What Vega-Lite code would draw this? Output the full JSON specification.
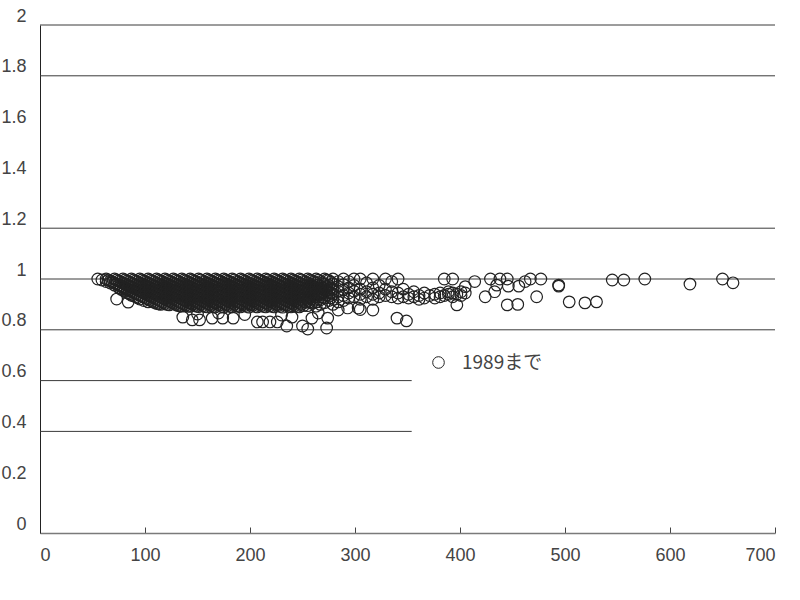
{
"$schema":"https://vega.github.io/schema/vega-lite/v6.json",
"autosize":"none",
"width":735,"height":508,
"padding":{"left":40,"top":25,"right":25,"bottom":67},
"background":"white",
"config":{"view":{"stroke":null},"font":"Liberation Sans"},
"datasets":{
"grid":[{"g":2,"a":0,"b":700},{"g":1.8,"a":0,"b":700},{"g":1.2,"a":0,"b":700},{"g":1,"a":0,"b":700},{"g":0.8,"a":0,"b":700},{"g":0.6,"a":0,"b":354},{"g":0.4,"a":0,"b":354}],
"pts":[
{"x":55,"y":1},{"x":59,"y":0.996},{"x":63,"y":1},{"x":63,"y":0.99},{"x":67,"y":0.992},{"x":67,"y":0.984},
{"x":71,"y":1},{"x":71,"y":0.984},{"x":71,"y":0.976},{"x":75,"y":0.992},{"x":75,"y":0.976},{"x":75,"y":0.966},
{"x":79,"y":1},{"x":79,"y":0.984},{"x":79,"y":0.968},{"x":79,"y":0.956},
{"x":83,"y":0.992},{"x":83,"y":0.976},{"x":83,"y":0.96},{"x":83,"y":0.946},
{"x":87,"y":1},{"x":87,"y":0.984},{"x":87,"y":0.968},{"x":87,"y":0.952},{"x":87,"y":0.936},
{"x":91,"y":0.992},{"x":91,"y":0.976},{"x":91,"y":0.96},{"x":91,"y":0.944},{"x":91,"y":0.93},
{"x":95,"y":1},{"x":95,"y":0.984},{"x":95,"y":0.968},{"x":95,"y":0.952},{"x":95,"y":0.936},{"x":95,"y":0.921},
{"x":99,"y":0.992},{"x":99,"y":0.976},{"x":99,"y":0.96},{"x":99,"y":0.944},{"x":99,"y":0.928},{"x":99,"y":0.915},
{"x":103,"y":1},{"x":103,"y":0.984},{"x":103,"y":0.968},{"x":103,"y":0.952},{"x":103,"y":0.936},{"x":103,"y":0.92},{"x":103,"y":0.91},
{"x":107,"y":0.992},{"x":107,"y":0.976},{"x":107,"y":0.96},{"x":107,"y":0.944},{"x":107,"y":0.928},{"x":107,"y":0.912},
{"x":111,"y":1},{"x":111,"y":0.984},{"x":111,"y":0.968},{"x":111,"y":0.952},{"x":111,"y":0.936},{"x":111,"y":0.92},{"x":111,"y":0.904},
{"x":115,"y":0.992},{"x":115,"y":0.976},{"x":115,"y":0.96},{"x":115,"y":0.944},{"x":115,"y":0.928},{"x":115,"y":0.912},{"x":115,"y":0.9},
{"x":119,"y":1},{"x":119,"y":0.984},{"x":119,"y":0.968},{"x":119,"y":0.952},{"x":119,"y":0.936},{"x":119,"y":0.92},{"x":119,"y":0.904},
{"x":123,"y":0.992},{"x":123,"y":0.976},{"x":123,"y":0.96},{"x":123,"y":0.944},{"x":123,"y":0.928},{"x":123,"y":0.912},{"x":123,"y":0.898},
{"x":127,"y":1},{"x":127,"y":0.984},{"x":127,"y":0.968},{"x":127,"y":0.952},{"x":127,"y":0.936},{"x":127,"y":0.92},{"x":127,"y":0.904},
{"x":131,"y":0.992},{"x":131,"y":0.976},{"x":131,"y":0.96},{"x":131,"y":0.944},{"x":131,"y":0.928},{"x":131,"y":0.912},{"x":131,"y":0.896},
{"x":135,"y":1},{"x":135,"y":0.984},{"x":135,"y":0.968},{"x":135,"y":0.952},{"x":135,"y":0.936},{"x":135,"y":0.92},{"x":135,"y":0.904},{"x":135,"y":0.893},
{"x":139,"y":0.993},{"x":139,"y":0.977},{"x":139,"y":0.961},{"x":139,"y":0.945},{"x":139,"y":0.929},{"x":139,"y":0.913},{"x":139,"y":0.897},
{"x":143,"y":1},{"x":143,"y":0.985},{"x":143,"y":0.969},{"x":143,"y":0.953},{"x":143,"y":0.937},{"x":143,"y":0.921},{"x":143,"y":0.905},{"x":143,"y":0.892},
{"x":147,"y":0.992},{"x":147,"y":0.976},{"x":147,"y":0.96},{"x":147,"y":0.944},{"x":147,"y":0.928},{"x":147,"y":0.912},{"x":147,"y":0.896},
{"x":151,"y":1},{"x":151,"y":0.984},{"x":151,"y":0.968},{"x":151,"y":0.952},{"x":151,"y":0.936},{"x":151,"y":0.92},{"x":151,"y":0.904},{"x":151,"y":0.891},
{"x":155,"y":0.991},{"x":155,"y":0.975},{"x":155,"y":0.959},{"x":155,"y":0.943},{"x":155,"y":0.927},{"x":155,"y":0.911},{"x":155,"y":0.895},
{"x":159,"y":1},{"x":159,"y":0.984},{"x":159,"y":0.968},{"x":159,"y":0.952},{"x":159,"y":0.936},{"x":159,"y":0.92},{"x":159,"y":0.904},{"x":159,"y":0.89},
{"x":163,"y":0.992},{"x":163,"y":0.976},{"x":163,"y":0.96},{"x":163,"y":0.944},{"x":163,"y":0.928},{"x":163,"y":0.912},{"x":163,"y":0.896},
{"x":167,"y":1},{"x":167,"y":0.985},{"x":167,"y":0.969},{"x":167,"y":0.953},{"x":167,"y":0.937},{"x":167,"y":0.921},{"x":167,"y":0.905},{"x":167,"y":0.89},
{"x":171,"y":0.993},{"x":171,"y":0.977},{"x":171,"y":0.961},{"x":171,"y":0.945},{"x":171,"y":0.929},{"x":171,"y":0.913},{"x":171,"y":0.897},
{"x":175,"y":1},{"x":175,"y":0.984},{"x":175,"y":0.968},{"x":175,"y":0.952},{"x":175,"y":0.936},{"x":175,"y":0.92},{"x":175,"y":0.904},{"x":175,"y":0.889},
{"x":179,"y":0.992},{"x":179,"y":0.976},{"x":179,"y":0.96},{"x":179,"y":0.944},{"x":179,"y":0.928},{"x":179,"y":0.912},{"x":179,"y":0.896},
{"x":183,"y":1},{"x":183,"y":0.984},{"x":183,"y":0.968},{"x":183,"y":0.952},{"x":183,"y":0.936},{"x":183,"y":0.92},{"x":183,"y":0.904},{"x":183,"y":0.89},
{"x":187,"y":0.991},{"x":187,"y":0.975},{"x":187,"y":0.959},{"x":187,"y":0.943},{"x":187,"y":0.927},{"x":187,"y":0.911},{"x":187,"y":0.895},
{"x":191,"y":1},{"x":191,"y":0.985},{"x":191,"y":0.969},{"x":191,"y":0.953},{"x":191,"y":0.937},{"x":191,"y":0.921},{"x":191,"y":0.905},{"x":191,"y":0.89},
{"x":195,"y":0.992},{"x":195,"y":0.976},{"x":195,"y":0.96},{"x":195,"y":0.944},{"x":195,"y":0.928},{"x":195,"y":0.912},{"x":195,"y":0.896},
{"x":199,"y":1},{"x":199,"y":0.984},{"x":199,"y":0.968},{"x":199,"y":0.952},{"x":199,"y":0.936},{"x":199,"y":0.92},{"x":199,"y":0.904},{"x":199,"y":0.889},
{"x":203,"y":0.993},{"x":203,"y":0.977},{"x":203,"y":0.961},{"x":203,"y":0.945},{"x":203,"y":0.929},{"x":203,"y":0.913},{"x":203,"y":0.897},
{"x":207,"y":1},{"x":207,"y":0.984},{"x":207,"y":0.968},{"x":207,"y":0.952},{"x":207,"y":0.936},{"x":207,"y":0.92},{"x":207,"y":0.904},{"x":207,"y":0.89},
{"x":211,"y":0.992},{"x":211,"y":0.976},{"x":211,"y":0.96},{"x":211,"y":0.944},{"x":211,"y":0.928},{"x":211,"y":0.912},{"x":211,"y":0.896},
{"x":215,"y":1},{"x":215,"y":0.985},{"x":215,"y":0.969},{"x":215,"y":0.953},{"x":215,"y":0.937},{"x":215,"y":0.921},{"x":215,"y":0.905},{"x":215,"y":0.89},
{"x":219,"y":0.991},{"x":219,"y":0.975},{"x":219,"y":0.959},{"x":219,"y":0.943},{"x":219,"y":0.927},{"x":219,"y":0.911},{"x":219,"y":0.895},
{"x":223,"y":1},{"x":223,"y":0.984},{"x":223,"y":0.968},{"x":223,"y":0.952},{"x":223,"y":0.936},{"x":223,"y":0.92},{"x":223,"y":0.904},{"x":223,"y":0.89},
{"x":227,"y":0.992},{"x":227,"y":0.976},{"x":227,"y":0.96},{"x":227,"y":0.944},{"x":227,"y":0.928},{"x":227,"y":0.912},{"x":227,"y":0.896},
{"x":231,"y":1},{"x":231,"y":0.984},{"x":231,"y":0.968},{"x":231,"y":0.952},{"x":231,"y":0.936},{"x":231,"y":0.92},{"x":231,"y":0.904},{"x":231,"y":0.889},
{"x":235,"y":0.993},{"x":235,"y":0.977},{"x":235,"y":0.961},{"x":235,"y":0.945},{"x":235,"y":0.929},{"x":235,"y":0.913},{"x":235,"y":0.897},
{"x":239,"y":1},{"x":239,"y":0.985},{"x":239,"y":0.969},{"x":239,"y":0.953},{"x":239,"y":0.937},{"x":239,"y":0.921},{"x":239,"y":0.905},{"x":239,"y":0.89},
{"x":243,"y":0.992},{"x":243,"y":0.976},{"x":243,"y":0.96},{"x":243,"y":0.944},{"x":243,"y":0.928},{"x":243,"y":0.912},{"x":243,"y":0.896},
{"x":247,"y":1},{"x":247,"y":0.984},{"x":247,"y":0.968},{"x":247,"y":0.952},{"x":247,"y":0.936},{"x":247,"y":0.92},{"x":247,"y":0.904},{"x":247,"y":0.89},
{"x":251,"y":0.991},{"x":251,"y":0.975},{"x":251,"y":0.959},{"x":251,"y":0.943},{"x":251,"y":0.927},{"x":251,"y":0.911},{"x":251,"y":0.895},
{"x":65,"y":0.996},{"x":69,"y":0.988},{"x":73,"y":0.996},{"x":73,"y":0.98},{"x":77,"y":0.988},{"x":77,"y":0.972},{"x":77,"y":0.96},
{"x":81,"y":0.996},{"x":81,"y":0.98},{"x":81,"y":0.964},{"x":81,"y":0.952},{"x":85,"y":0.988},{"x":85,"y":0.972},{"x":85,"y":0.956},{"x":85,"y":0.942},
{"x":89,"y":0.996},{"x":89,"y":0.98},{"x":89,"y":0.964},{"x":89,"y":0.948},{"x":89,"y":0.934},
{"x":93,"y":0.988},{"x":93,"y":0.972},{"x":93,"y":0.956},{"x":93,"y":0.94},{"x":93,"y":0.926},
{"x":97,"y":0.996},{"x":97,"y":0.98},{"x":97,"y":0.964},{"x":97,"y":0.948},{"x":97,"y":0.932},
{"x":101,"y":0.988},{"x":101,"y":0.972},{"x":101,"y":0.956},{"x":101,"y":0.94},{"x":101,"y":0.924},
{"x":105,"y":0.996},{"x":105,"y":0.98},{"x":105,"y":0.964},{"x":105,"y":0.948},{"x":105,"y":0.932},{"x":105,"y":0.916},
{"x":109,"y":0.988},{"x":109,"y":0.972},{"x":109,"y":0.956},{"x":109,"y":0.94},{"x":109,"y":0.924},{"x":109,"y":0.908},
{"x":113,"y":0.996},{"x":113,"y":0.98},{"x":113,"y":0.964},{"x":113,"y":0.948},{"x":113,"y":0.932},{"x":113,"y":0.916},{"x":113,"y":0.902},
{"x":117,"y":0.988},{"x":117,"y":0.972},{"x":117,"y":0.956},{"x":117,"y":0.94},{"x":117,"y":0.924},{"x":117,"y":0.908},
{"x":121,"y":0.996},{"x":121,"y":0.98},{"x":121,"y":0.964},{"x":121,"y":0.948},{"x":121,"y":0.932},{"x":121,"y":0.916},{"x":121,"y":0.9},
{"x":125,"y":0.988},{"x":125,"y":0.972},{"x":125,"y":0.956},{"x":125,"y":0.94},{"x":125,"y":0.924},{"x":125,"y":0.908},
{"x":129,"y":0.996},{"x":129,"y":0.98},{"x":129,"y":0.964},{"x":129,"y":0.948},{"x":129,"y":0.932},{"x":129,"y":0.916},{"x":129,"y":0.9},
{"x":133,"y":0.988},{"x":133,"y":0.972},{"x":133,"y":0.956},{"x":133,"y":0.94},{"x":133,"y":0.924},{"x":133,"y":0.908},{"x":133,"y":0.894},
{"x":137,"y":0.996},{"x":137,"y":0.98},{"x":137,"y":0.964},{"x":137,"y":0.948},{"x":137,"y":0.932},{"x":137,"y":0.916},{"x":137,"y":0.9},
{"x":141,"y":0.988},{"x":141,"y":0.972},{"x":141,"y":0.956},{"x":141,"y":0.94},{"x":141,"y":0.924},{"x":141,"y":0.908},{"x":141,"y":0.893},
{"x":145,"y":0.996},{"x":145,"y":0.98},{"x":145,"y":0.964},{"x":145,"y":0.948},{"x":145,"y":0.932},{"x":145,"y":0.916},{"x":145,"y":0.9},
{"x":149,"y":0.988},{"x":149,"y":0.972},{"x":149,"y":0.956},{"x":149,"y":0.94},{"x":149,"y":0.924},{"x":149,"y":0.908},{"x":149,"y":0.893},
{"x":153,"y":0.996},{"x":153,"y":0.98},{"x":153,"y":0.964},{"x":153,"y":0.948},{"x":153,"y":0.932},{"x":153,"y":0.916},{"x":153,"y":0.9},
{"x":157,"y":0.988},{"x":157,"y":0.972},{"x":157,"y":0.956},{"x":157,"y":0.94},{"x":157,"y":0.924},{"x":157,"y":0.908},{"x":157,"y":0.892},
{"x":161,"y":0.996},{"x":161,"y":0.98},{"x":161,"y":0.964},{"x":161,"y":0.948},{"x":161,"y":0.932},{"x":161,"y":0.916},{"x":161,"y":0.9},
{"x":165,"y":0.988},{"x":165,"y":0.972},{"x":165,"y":0.956},{"x":165,"y":0.94},{"x":165,"y":0.924},{"x":165,"y":0.908},{"x":165,"y":0.892},
{"x":169,"y":0.996},{"x":169,"y":0.98},{"x":169,"y":0.964},{"x":169,"y":0.948},{"x":169,"y":0.932},{"x":169,"y":0.916},{"x":169,"y":0.9},
{"x":173,"y":0.988},{"x":173,"y":0.972},{"x":173,"y":0.956},{"x":173,"y":0.94},{"x":173,"y":0.924},{"x":173,"y":0.908},{"x":173,"y":0.892},
{"x":177,"y":0.996},{"x":177,"y":0.98},{"x":177,"y":0.964},{"x":177,"y":0.948},{"x":177,"y":0.932},{"x":177,"y":0.916},{"x":177,"y":0.9},
{"x":181,"y":0.988},{"x":181,"y":0.972},{"x":181,"y":0.956},{"x":181,"y":0.94},{"x":181,"y":0.924},{"x":181,"y":0.908},{"x":181,"y":0.892},
{"x":185,"y":0.996},{"x":185,"y":0.98},{"x":185,"y":0.964},{"x":185,"y":0.948},{"x":185,"y":0.932},{"x":185,"y":0.916},{"x":185,"y":0.9},
{"x":189,"y":0.988},{"x":189,"y":0.972},{"x":189,"y":0.956},{"x":189,"y":0.94},{"x":189,"y":0.924},{"x":189,"y":0.908},{"x":189,"y":0.892},
{"x":193,"y":0.996},{"x":193,"y":0.98},{"x":193,"y":0.964},{"x":193,"y":0.948},{"x":193,"y":0.932},{"x":193,"y":0.916},{"x":193,"y":0.9},
{"x":197,"y":0.988},{"x":197,"y":0.972},{"x":197,"y":0.956},{"x":197,"y":0.94},{"x":197,"y":0.924},{"x":197,"y":0.908},{"x":197,"y":0.892},
{"x":201,"y":0.996},{"x":201,"y":0.98},{"x":201,"y":0.964},{"x":201,"y":0.948},{"x":201,"y":0.932},{"x":201,"y":0.916},{"x":201,"y":0.9},
{"x":205,"y":0.988},{"x":205,"y":0.972},{"x":205,"y":0.956},{"x":205,"y":0.94},{"x":205,"y":0.924},{"x":205,"y":0.908},{"x":205,"y":0.892},
{"x":209,"y":0.996},{"x":209,"y":0.98},{"x":209,"y":0.964},{"x":209,"y":0.948},{"x":209,"y":0.932},{"x":209,"y":0.916},{"x":209,"y":0.9},
{"x":213,"y":0.988},{"x":213,"y":0.972},{"x":213,"y":0.956},{"x":213,"y":0.94},{"x":213,"y":0.924},{"x":213,"y":0.908},{"x":213,"y":0.892},
{"x":217,"y":0.996},{"x":217,"y":0.98},{"x":217,"y":0.964},{"x":217,"y":0.948},{"x":217,"y":0.932},{"x":217,"y":0.916},{"x":217,"y":0.9},
{"x":221,"y":0.988},{"x":221,"y":0.972},{"x":221,"y":0.956},{"x":221,"y":0.94},{"x":221,"y":0.924},{"x":221,"y":0.908},{"x":221,"y":0.892},
{"x":225,"y":0.996},{"x":225,"y":0.98},{"x":225,"y":0.964},{"x":225,"y":0.948},{"x":225,"y":0.932},{"x":225,"y":0.916},{"x":225,"y":0.9},
{"x":229,"y":0.988},{"x":229,"y":0.972},{"x":229,"y":0.956},{"x":229,"y":0.94},{"x":229,"y":0.924},{"x":229,"y":0.908},{"x":229,"y":0.892},
{"x":233,"y":0.996},{"x":233,"y":0.98},{"x":233,"y":0.964},{"x":233,"y":0.948},{"x":233,"y":0.932},{"x":233,"y":0.916},{"x":233,"y":0.9},
{"x":237,"y":0.988},{"x":237,"y":0.972},{"x":237,"y":0.956},{"x":237,"y":0.94},{"x":237,"y":0.924},{"x":237,"y":0.908},{"x":237,"y":0.892},
{"x":241,"y":0.996},{"x":241,"y":0.98},{"x":241,"y":0.964},{"x":241,"y":0.948},{"x":241,"y":0.932},{"x":241,"y":0.916},{"x":241,"y":0.9},
{"x":245,"y":0.988},{"x":245,"y":0.972},{"x":245,"y":0.956},{"x":245,"y":0.94},{"x":245,"y":0.924},{"x":245,"y":0.908},{"x":245,"y":0.892},
{"x":249,"y":0.996},{"x":249,"y":0.98},{"x":249,"y":0.964},{"x":249,"y":0.948},{"x":249,"y":0.932},{"x":249,"y":0.916},{"x":249,"y":0.9},
{"x":253,"y":0.988},{"x":253,"y":0.972},{"x":253,"y":0.956},{"x":253,"y":0.94},{"x":253,"y":0.924},{"x":253,"y":0.908},
{"x":257,"y":0.996},{"x":257,"y":0.978},{"x":257,"y":0.962},{"x":257,"y":0.946},{"x":257,"y":0.926},{"x":257,"y":0.91},
{"x":261,"y":0.988},{"x":261,"y":0.97},{"x":261,"y":0.952},{"x":261,"y":0.935},{"x":261,"y":0.916},
{"x":265,"y":0.995},{"x":265,"y":0.977},{"x":265,"y":0.96},{"x":265,"y":0.94},{"x":265,"y":0.922},
{"x":269,"y":0.985},{"x":269,"y":0.966},{"x":269,"y":0.948},{"x":269,"y":0.93},
{"x":273,"y":0.996},{"x":273,"y":0.97},{"x":273,"y":0.955},{"x":273,"y":0.938},
{"x":277,"y":0.988},{"x":277,"y":0.966},{"x":277,"y":0.945},{"x":277,"y":0.926},
{"x":255,"y":1},{"x":255,"y":0.985},{"x":255,"y":0.965},{"x":255,"y":0.95},{"x":255,"y":0.93},{"x":255,"y":0.915},{"x":255,"y":0.895},
{"x":259,"y":0.993},{"x":259,"y":0.975},{"x":259,"y":0.958},{"x":259,"y":0.94},{"x":259,"y":0.922},{"x":259,"y":0.905},
{"x":263,"y":1},{"x":263,"y":0.984},{"x":263,"y":0.968},{"x":263,"y":0.945},{"x":263,"y":0.93},{"x":263,"y":0.91},{"x":263,"y":0.893},
{"x":267,"y":0.99},{"x":267,"y":0.972},{"x":267,"y":0.955},{"x":267,"y":0.938},{"x":267,"y":0.918},{"x":267,"y":0.9},
{"x":271,"y":1},{"x":271,"y":0.98},{"x":271,"y":0.962},{"x":271,"y":0.946},{"x":271,"y":0.925},{"x":271,"y":0.907},
{"x":275,"y":0.994},{"x":275,"y":0.975},{"x":275,"y":0.95},{"x":275,"y":0.932},{"x":275,"y":0.915},
{"x":279,"y":1},{"x":279,"y":0.982},{"x":279,"y":0.96},{"x":279,"y":0.94},{"x":279,"y":0.92},{"x":279,"y":0.9},
{"x":284,"y":0.99},{"x":284,"y":0.97},{"x":284,"y":0.952},{"x":284,"y":0.93},{"x":284,"y":0.91},
{"x":289,"y":1},{"x":289,"y":0.978},{"x":289,"y":0.958},{"x":289,"y":0.935},{"x":289,"y":0.915},
{"x":294,"y":0.99},{"x":294,"y":0.965},{"x":294,"y":0.945},{"x":294,"y":0.925},
{"x":299,"y":1},{"x":299,"y":0.975},{"x":299,"y":0.952},{"x":299,"y":0.93},
{"x":305,"y":1},{"x":305,"y":0.96},{"x":305,"y":0.94},{"x":305,"y":0.92},{"x":305,"y":0.88},
{"x":311,"y":0.985},{"x":311,"y":0.95},{"x":311,"y":0.93},
{"x":317,"y":1},{"x":317,"y":0.965},{"x":317,"y":0.94},{"x":317,"y":0.92},{"x":317,"y":0.878},
{"x":323,"y":0.975},{"x":323,"y":0.945},{"x":323,"y":0.93},
{"x":329,"y":1},{"x":329,"y":0.96},{"x":329,"y":0.935},
{"x":335,"y":0.99},{"x":335,"y":0.95},{"x":335,"y":0.93},
{"x":341,"y":1},{"x":341,"y":0.945},{"x":341,"y":0.925},
{"x":346,"y":0.96},{"x":346,"y":0.93},{"x":351,"y":0.94},{"x":351,"y":0.925},
{"x":356,"y":0.95},{"x":356,"y":0.93},{"x":361,"y":0.935},{"x":361,"y":0.92},
{"x":366,"y":0.945},{"x":366,"y":0.925},{"x":371,"y":0.935},
{"x":376,"y":0.94},{"x":376,"y":0.925},{"x":381,"y":0.945},{"x":381,"y":0.93},
{"x":385,"y":1},{"x":385,"y":0.935},{"x":389,"y":0.95},{"x":389,"y":0.94},
{"x":393,"y":1},{"x":393,"y":0.945},{"x":393,"y":0.93},{"x":397,"y":0.94},{"x":397,"y":0.898},
{"x":401,"y":0.95},{"x":401,"y":0.935},{"x":405,"y":0.97},{"x":405,"y":0.945},
{"x":73,"y":0.921},{"x":84,"y":0.909},{"x":136,"y":0.85},{"x":145,"y":0.839},{"x":152,"y":0.839},
{"x":164,"y":0.846},{"x":174,"y":0.846},{"x":184,"y":0.846},{"x":207,"y":0.831},{"x":212,"y":0.831},
{"x":219,"y":0.831},{"x":226,"y":0.831},{"x":235,"y":0.815},{"x":250,"y":0.815},{"x":255,"y":0.803},
{"x":259,"y":0.846},{"x":265,"y":0.866},{"x":273,"y":0.807},{"x":274,"y":0.846},{"x":284,"y":0.878},
{"x":293,"y":0.886},{"x":303,"y":0.886},{"x":340,"y":0.846},{"x":349,"y":0.835},
{"x":150,"y":0.862},{"x":170,"y":0.866},{"x":195,"y":0.86},{"x":230,"y":0.858},{"x":240,"y":0.85},
{"x":414,"y":0.99},{"x":424,"y":0.93},{"x":429,"y":1},{"x":433,"y":0.95},{"x":435,"y":0.976},
{"x":438,"y":1},{"x":445,"y":1},{"x":446,"y":0.972},{"x":445,"y":0.898},{"x":455,"y":0.9},
{"x":456,"y":0.972},{"x":462,"y":0.99},{"x":467,"y":1},{"x":473,"y":0.93},{"x":477,"y":1},
{"x":494,"y":0.972},{"x":494,"y":0.976},{"x":504,"y":0.91},{"x":519,"y":0.906},{"x":530,"y":0.91},
{"x":545,"y":0.996},{"x":556,"y":0.996},{"x":576,"y":1},{"x":619,"y":0.98},{"x":650,"y":1},{"x":660,"y":0.985}
]},
"layer":[
{"data":{"name":"grid"},"mark":{"type":"rule","color":"#3a3a3a","strokeWidth":1},
 "encoding":{"y":{"field":"g","type":"quantitative"},"x":{"field":"a","type":"quantitative"},"x2":{"field":"b"}}},
{"data":{"name":"pts"},"mark":{"type":"point","shape":"circle","filled":false,"strokeWidth":1.2,"size":135,"opacity":1},
 "encoding":{
  "x":{"field":"x","type":"quantitative","scale":{"domain":[0,700],"nice":false},
   "axis":{"title":null,"values":[0,100,200,300,400,500,600,700],"grid":false,"domainColor":"#7a7a7a","domainWidth":1.5,"tickColor":"#444","tickSize":-6,"labelPadding":19,"labelFontSize":18,"labelColor":"#444","labelFont":"Liberation Sans","labelDx":3}},
  "y":{"field":"y","type":"quantitative","scale":{"domain":[0,2],"nice":false,"zero":true},
   "axis":{"title":null,"values":[0,0.2,0.4,0.6,0.8,1,1.2,1.4,1.6,1.8,2],"format":"~g","grid":false,"ticks":false,"domainColor":"#222","labelPadding":14,"labelFontSize":18,"labelColor":"#444","labelFont":"Liberation Sans","labelOffset":-9}},
  "color":{"datum":"1989まで","type":"nominal","scale":{"range":["#222222"]},
   "legend":{"orient":"none","legendX":389,"legendY":328,"title":null,"labelFontSize":19,"labelColor":"#444","labelFont":"Noto Sans CJK JP","symbolSize":135,"symbolStrokeWidth":1,"labelOffset":14}}
 }}
]
}
